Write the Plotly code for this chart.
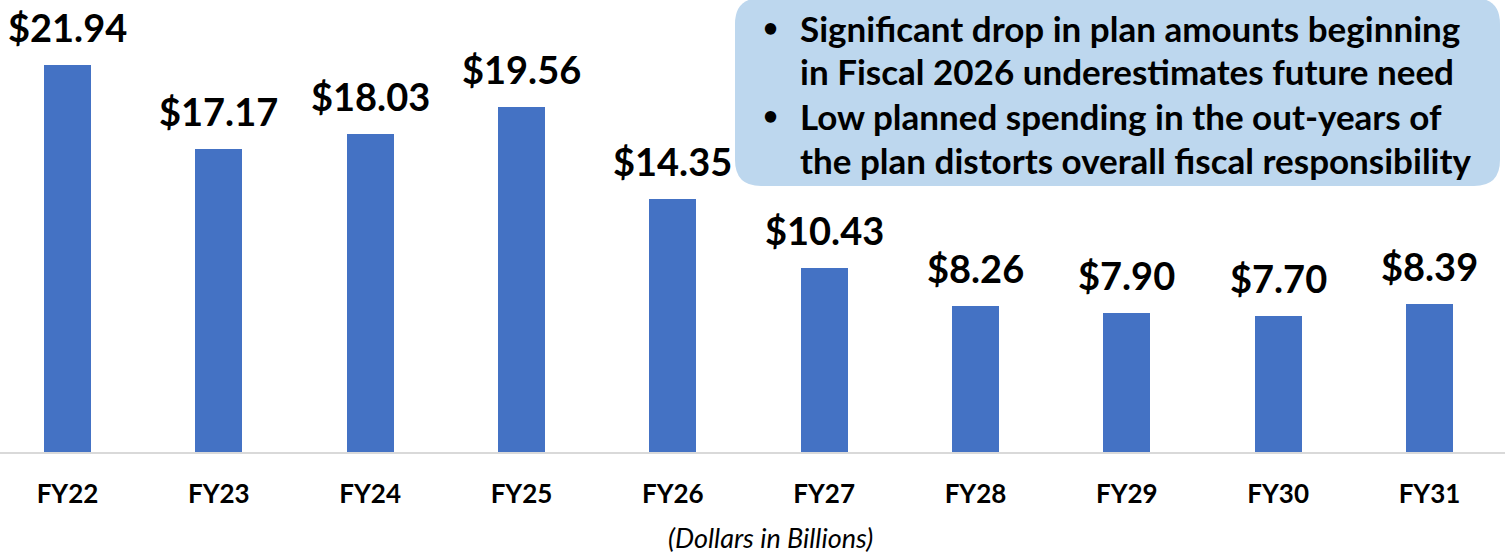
import plotly.graph_objects as go

categories = ["FY22", "FY23", "FY24", "FY25", "FY26", "FY27", "FY28", "FY29", "FY30", "FY31"]
values = [21.94, 17.17, 18.03, 19.56, 14.35, 10.43, 8.26, 7.90, 7.70, 8.39]
value_labels = ["$21.94", "$17.17", "$18.03", "$19.56", "$14.35", "$10.43", "$8.26", "$7.90", "$7.70", "$8.39"]
box_lines = [
    "Significant drop in plan amounts beginning",
    "in Fiscal 2026 underestimates future need",
    "Low planned spending in the out-years of",
    "the plan distorts overall fiscal responsibility",
]
bullet_lines = [0, 2]
subtitle = "(Dollars in Billions)"

FONT = "Lato"
W, H = 1510, 554
ML, MR, MT, MB = 0, 5, 0, 102
PW, PH = W - ML - MR, H - MT - MB

xs = list(range(len(categories)))

fig = go.Figure()
fig.add_trace(go.Bar(
    x=xs, y=values, width=0.31,
    marker=dict(color="#4472c4", line=dict(width=0)),
    hoverinfo="skip",
))

annotations = []
for i, (v, t) in enumerate(zip(values, value_labels)):
    annotations.append(dict(
        x=i, y=v, xref="x", yref="y", text=t, showarrow=False,
        yanchor="bottom", xanchor="center", yshift=13,
        font=dict(family=FONT, size=38, color="black", weight=700),
    ))

def px2x(px):
    return (px - ML) / PW

def py2y(py):
    return 1 - (py - MT) / PH

# text box
bx0, bx1, by0, by1, r = 735, 1500, -2, 186, 26
path = (
    f"M {px2x(bx0 + r)} {py2y(by0)} L {px2x(bx1 - r)} {py2y(by0)} "
    f"Q {px2x(bx1)} {py2y(by0)} {px2x(bx1)} {py2y(by0 + r)} "
    f"L {px2x(bx1)} {py2y(by1 - r)} "
    f"Q {px2x(bx1)} {py2y(by1)} {px2x(bx1 - r)} {py2y(by1)} "
    f"L {px2x(bx0 + r)} {py2y(by1)} "
    f"Q {px2x(bx0)} {py2y(by1)} {px2x(bx0)} {py2y(by1 - r)} "
    f"L {px2x(bx0)} {py2y(by0 + r)} "
    f"Q {px2x(bx0)} {py2y(by0)} {px2x(bx0 + r)} {py2y(by0)} Z"
)
shapes = [dict(type="path", xref="paper", yref="paper", path=path,
               fillcolor="#bdd7ee", line=dict(width=0), layer="above")]

line_centers = [28, 71, 116, 160]
for k, (txt, cy) in enumerate(zip(box_lines, line_centers)):
    annotations.append(dict(
        x=px2x(798), y=py2y(cy), xref="paper", yref="paper", text=txt,
        showarrow=False, xanchor="left", yanchor="middle",
        font=dict(family=FONT, size=35, color="black", weight=700),
    ))
    if k in bullet_lines:
        annotations.append(dict(
            x=px2x(770), y=py2y(cy - 1), xref="paper", yref="paper", text="•",
            showarrow=False, xanchor="center", yanchor="middle",
            font=dict(family=FONT, size=26, color="black", weight=700),
        ))

annotations.append(dict(
    x=px2x(770), y=py2y(537), xref="paper", yref="paper", text=subtitle,
    showarrow=False, xanchor="center", yanchor="middle",
    font=dict(family=FONT, size=27, color="black", style="italic"),
))

fig.update_layout(
    width=W, height=H,
    margin=dict(l=ML, r=MR, t=MT, b=MB, pad=0),
    paper_bgcolor="white", plot_bgcolor="white",
    showlegend=False,
    bargap=0,
    xaxis=dict(
        range=[-0.446, 9.499], tickvals=xs, ticktext=categories,
        showgrid=False, zeroline=False, showline=True, linecolor="#d9d9d9", linewidth=2,
        ticks="", ticklabelstandoff=18,
        tickfont=dict(family=FONT, size=26, color="black", weight=700),
        fixedrange=True,
    ),
    yaxis=dict(range=[0, PH / 17.64], visible=False, fixedrange=True),
    annotations=annotations,
    shapes=shapes,
)

fig.write_html("out.html")
